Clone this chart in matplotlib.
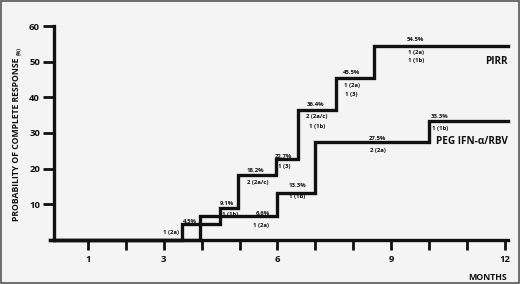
import matplotlib
matplotlib.use('Agg')
import matplotlib.pyplot as plt
from matplotlib.patches import Rectangle

plt.rcParams['font.family'] = ['Open Sans', 'DejaVu Sans']
plt.rcParams['font.weight'] = 'bold'

# step curves (months, % complete response)
pirr_months = [0, 3.48, 4.49, 4.96, 5.95, 6.55, 7.55, 8.55, 12.08]
pirr_pct = [0, 4.5, 9.1, 18.2, 22.7, 36.4, 45.5, 54.5, 54.5]
peg_months = [0, 3.96, 6.0, 7.0, 10.0, 12.08]
peg_pct = [0, 6.6, 13.3, 27.5, 33.3, 33.3]

# labels next to the steps: (month, pct, text)
notes = [
    (3.19, 2.0, '1 (2a)'),
    (3.70, 5.3, '4.5%'),
    (4.67, 10.2, '9.1%'),
    (4.75, 7.2, '1 (1b)'),
    (5.61, 7.5, '6.6%'),
    (5.58, 4.2, '1 (2a)'),
    (5.41, 19.4, '18.2%'),
    (5.49, 16.2, '2 (2a/c)'),
    (6.15, 23.3, '22.7%'),
    (6.17, 20.6, '1 (3)'),
    (6.53, 15.4, '13.3%'),
    (6.53, 12.3, '1 (1b)'),
    (7.00, 37.9, '36.4%'),
    (7.05, 34.5, '2 (2a/c)'),
    (7.04, 31.9, '1 (1b)'),
    (7.96, 47.1, '45.5%'),
    (7.96, 43.4, '1 (2a)'),
    (7.94, 40.8, '1 (3)'),
    (8.64, 28.4, '27.5%'),
    (8.66, 25.2, '2 (2a)'),
    (9.65, 56.2, '54.5%'),
    (9.65, 52.7, '1 (2a)'),
    (9.65, 50.2, '1 (1b)'),
    (10.27, 34.5, '33.3%'),
    (10.29, 31.3, '1 (1b)'),
]

yticks = [10, 20, 30, 40, 50, 60]
xticks = list(range(1, 13))
xlabels = ['1', '', '3', '', '', '6', '', '', '9', '', '', '12']

ink = '#111111'
W, H = 520, 284
fig = plt.figure(figsize=(W / 100, H / 100), dpi=100, facecolor='#f4f4f4')
fig.patches.append(Rectangle((0.002, 0.003), 0.996, 0.994, transform=fig.transFigure,
                             fill=False, edgecolor='#555555', linewidth=1.2))

ax = fig.add_axes([54 / W, 1 - 240 / H, (508 - 54) / W, (240 - 26) / H])
ax.set_facecolor('none')
ax.set_xlim(4 / 37.9, 458 / 37.9)
ax.set_ylim(0, 60)

ax.step(pirr_months, pirr_pct, where='post', color=ink, lw=2.4, clip_on=False,
        solid_joinstyle='miter')
ax.step(peg_months, peg_pct, where='post', color=ink, lw=2.4, clip_on=False,
        solid_joinstyle='miter')

for x, y, t in notes:
    ax.text(x, y, t, ha='center', va='center', fontsize=4.3, fontweight='bold', color=ink)

ax.text(11.77, 50.1, 'PIRR', ha='center', va='center', fontsize=7.2, fontweight='bold', color=ink)
ax.text(12.08, 27.7, 'PEG IFN-α/RBV', ha='right', va='center', fontsize=7.2,
        fontweight='bold', color=ink)

for s in ['top', 'right']:
    ax.spines[s].set_visible(False)
for s in ['left', 'bottom']:
    ax.spines[s].set_linewidth(2.4)
    ax.spines[s].set_color(ink)

ax.set_yticks(yticks)
ax.set_yticklabels([str(v) for v in yticks])
ax.set_xticks(xticks)
ax.set_xticklabels(xlabels)
ax.tick_params(axis='y', direction='out', length=8, width=2, pad=2, labelsize=6.8,
               colors=ink)
ax.tick_params(axis='x', direction='out', length=7, width=2, pad=4, labelsize=6.8,
               colors=ink)
for lab in ax.get_xticklabels() + ax.get_yticklabels():
    lab.set_fontweight('bold')

fig.text(17 / W, 1 - 139.5 / H, 'PROBABILITY OF COMPLETE RESPONSE', rotation=90,
         ha='center', va='center', fontsize=6.2, fontweight='bold', color=ink)
fig.text(19 / W, 1 - 51 / H, '(%)', rotation=90, ha='center', va='center',
         fontsize=3.6, fontweight='bold', color=ink)
fig.text(488 / W, 1 - 277 / H, 'MONTHS', ha='center', va='center', fontsize=6.3,
         fontweight='bold', color=ink)

fig.savefig('out.png', dpi=100, facecolor=fig.get_facecolor())
